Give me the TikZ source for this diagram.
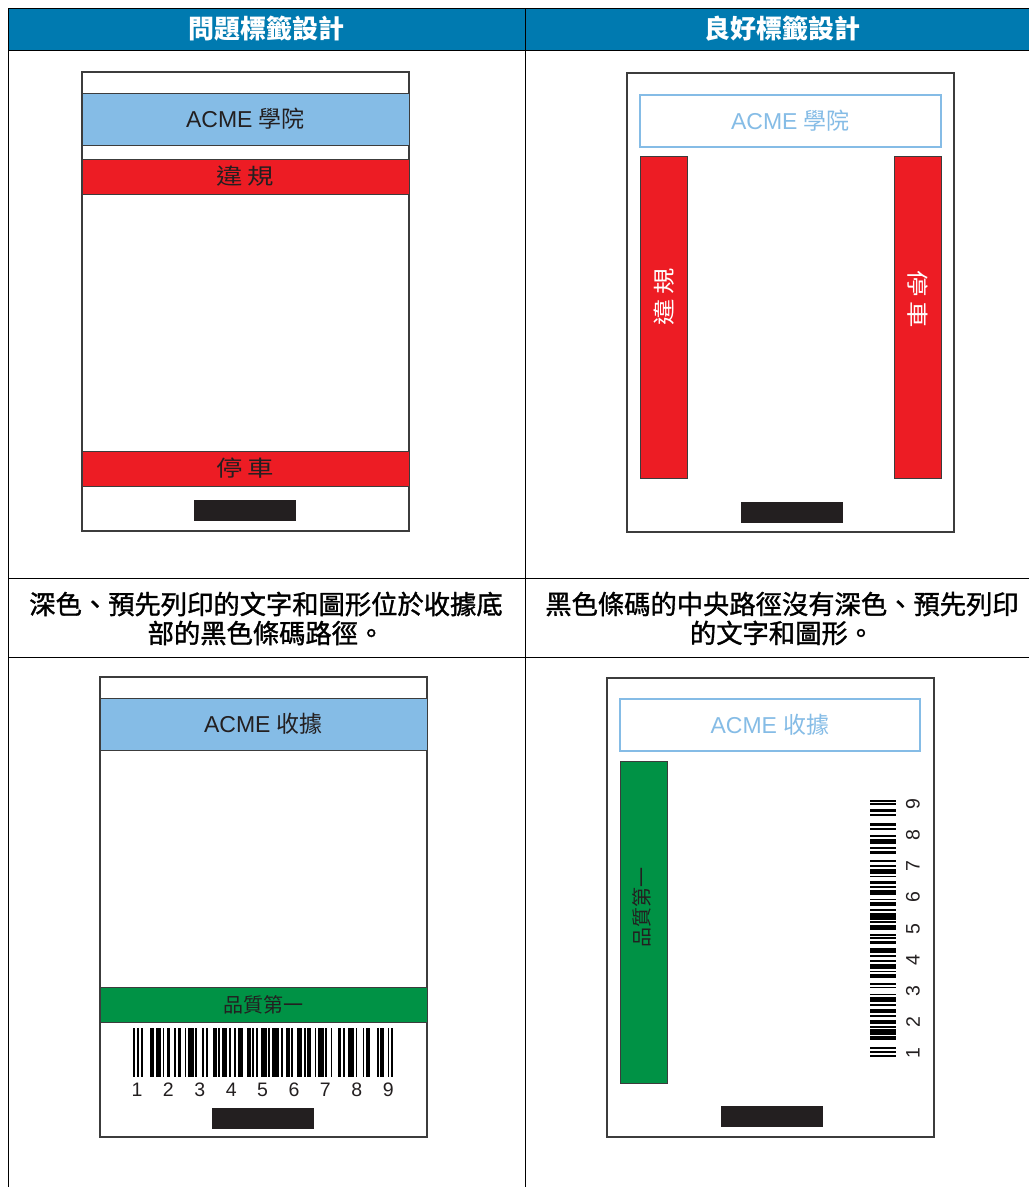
\documentclass[tikz,border=0pt]{standalone}
\usepackage{fontspec}
\setmainfont{Liberation Sans}
\newfontfamily\cjk{Noto Sans CJK TC}
\newfontfamily\cjkcap{Noto Sans CJK TC}[FakeBold=1.3]
\usetikzlibrary{shadows}
\definecolor{hdrblue}{HTML}{007AB0}
\definecolor{lblue}{HTML}{85BCE6}
\definecolor{redc}{HTML}{ED1C24}
\definecolor{greenc}{HTML}{009245}
\definecolor{darkc}{HTML}{231F20}
\definecolor{bordc}{HTML}{3C3C3C}
\definecolor{shadc}{HTML}{A8A8A8}
\newcommand\mybarcode[1]{%
  \xdef\bcx{0}%
  \foreach \b/\s in {1.5/2,1.5/2,1.5/6,3/1.5,4.5/1.5,1.5/2,3/3,1.5/1.5,3/3,1.5/1.5,4.5/1.5,1.5/4.5,1.5/1.5,1.5/4.5,3/1.5,1.5/1.5,4.5/1.5,1.5/3,1.5/1.5,4.5/3,3/1.5,1.5/1.5,1.5/3,4.5/1.5,1.5/1.5,6/1.5,1.5/3,3/1.5,1.5/3,4.5/1.5,1.5/1.5,3/3,1.5/1.5,4.5/1.5,1.5/3,1.5/4.5,3/1.5,1.5/3,4.5/1.5,1.5/4.5,1.5/1.5,3/6,1.5/1.5,3/3,1.5/1.5,1.5/0}{%
    \fill[black] (\bcx,0) rectangle ++(\b,#1);%
    \pgfmathparse{\bcx+\b+\s}\xdef\bcx{\pgfmathresult}%
  }%
}
\newcommand\widetxt[1]{\scalebox{1.2}[1]{#1}}
\begin{document}
\begin{tikzpicture}[x=1pt,y=-1pt,
  every node/.style={inner sep=0pt, outer sep=0pt},
  cell/.style={draw=black, line width=0.8pt},
  hdrtxt/.style={text=white, font=\cjk\bfseries\fontsize{26}{26}\selectfont},
  captxt/.style={align=center, text=black, font=\cjkcap\fontsize{26.3}{29}\selectfont},
  labelbox/.style={draw=bordc, line width=1.2pt, fill=white,
    drop shadow={shadow xshift=1.3pt, shadow yshift=-1.3pt, fill=shadc, opacity=1},
    minimum width=327pt, minimum height=459pt},
  band/.style={draw=bordc, line width=0.9pt, minimum width=327pt},
  outl/.style={draw=lblue, line width=1.2pt, minimum width=301pt, minimum height=52pt,
    text=lblue, font=\fontsize{23}{23}\selectfont},
  vbar/.style={draw=bordc, line width=1pt, minimum width=47pt, minimum height=322pt,
    drop shadow={shadow xshift=1pt, shadow yshift=-1pt, fill=shadc, opacity=1}},
  blackbar/.style={fill=darkc, minimum width=102pt, minimum height=21pt},
  bandtxt/.style={text=darkc, font=\cjk\fontsize{22}{22}\selectfont},
  acme/.style={text=darkc, font=\fontsize{23}{23}\selectfont},
  digit/.style={text=darkc, font=\fontsize{19.5}{19.5}\selectfont}
]
\useasboundingbox (0,0) rectangle (1029,1187);
\fill[white] (0,0) rectangle (1029,1187);
% ---------- table ----------
\fill[hdrblue] (8,8) rectangle (1029,50);
\draw[cell] (8,8) -- (1029,8);
\draw[cell] (8,8) -- (8,1187) (525,8) -- (525,1187);
\draw[cell] (8,50) -- (1029,50) (8,578) -- (1029,578) (8,657) -- (1029,657);
\node[hdrtxt] (hleft) at (266,28.5) {問題標籤設計};
\node[hdrtxt] (hright) at (782,28.5) {良好標籤設計};
\node[captxt] (capl) at (266,618.5) {深色、預先列印的文字和圖形位於收據底\\部的黑色條碼路徑。};
\node[captxt] (capr) at (782,618.5) {黑色條碼的中央路徑沒有深色、預先列印\\的文字和圖形。};
% ---------- row 1 left ----------
\node[labelbox] (lab1) at (245.5,301.5) {};
\node[band, fill=lblue, minimum height=52pt, acme] (l1head) at (245.5,119) {ACME {\cjk 學院}};
\node[band, fill=redc, minimum height=35pt, bandtxt] (l1viol) at (245.5,176.5) {\widetxt{違\hspace{4pt}規}};
\node[band, fill=redc, minimum height=35pt, bandtxt] (l1park) at (245.5,468.5) {\widetxt{停\hspace{4pt}車}};
\node[blackbar] (l1bar) at (245,510.5) {};
% ---------- row 1 right ----------
\node[labelbox] (lab2) at (790.5,302.5) {};
\node[outl] (r1head) at (790.5,121) {ACME {\cjk 學院}};
\node[vbar, fill=redc] (r1left) at (663.5,317) {};
\node[vbar, fill=redc] (r1right) at (917.5,317) {};
\node[bandtxt, text=white, rotate=90] (r1viol) at (664,297) {\widetxt{違\hspace{4pt}規}};
\node[bandtxt, text=white, rotate=-90] (r1park) at (918,299) {\widetxt{停\hspace{4pt}車}};
\node[blackbar] (r1bar) at (792,512) {};
% ---------- row 2 left ----------
\node[labelbox, minimum height=460pt] (lab3) at (263.5,907) {};
\node[band, fill=lblue, minimum height=52pt, acme] (l2head) at (263.5,724) {ACME {\cjk 收據}};
\node[band, fill=greenc, minimum height=35pt, text=darkc, font=\cjk\fontsize{20}{20}\selectfont] (l2qual) at (263.5,1004.5) {品質第一};
\begin{scope}[shift={(133,1028)}, xscale=1.187]
  \mybarcode{49}
\end{scope}
\foreach \d in {1,...,9}{
  \node[digit] (ld\d) at ({137+31.4*(\d-1)},1090) {\d};
}
\node[blackbar] (l2bar) at (263,1118.5) {};
% ---------- row 2 right ----------
\node[labelbox] (lab4) at (770.5,907.5) {};
\node[outl, minimum width=300pt] (r2head) at (770,725) {ACME {\cjk 收據}};
\node[vbar, fill=greenc] (r2qual) at (643.5,922) {};
\node[rotate=90, text=darkc, font=\cjk\fontsize{20}{20}\selectfont] (r2qualtxt) at (642,907) {品質第一};
\begin{scope}[shift={(870,1057)}, rotate=90, xscale=1.174]
  \mybarcode{26}
\end{scope}
\foreach \d in {1,...,9}{
  \node[digit, rotate=90] (rd\d) at (913,{1053-31.1*(\d-1)}) {\d};
}
\node[blackbar] (r2bar) at (772,1116.5) {};
\end{tikzpicture}
\end{document}
